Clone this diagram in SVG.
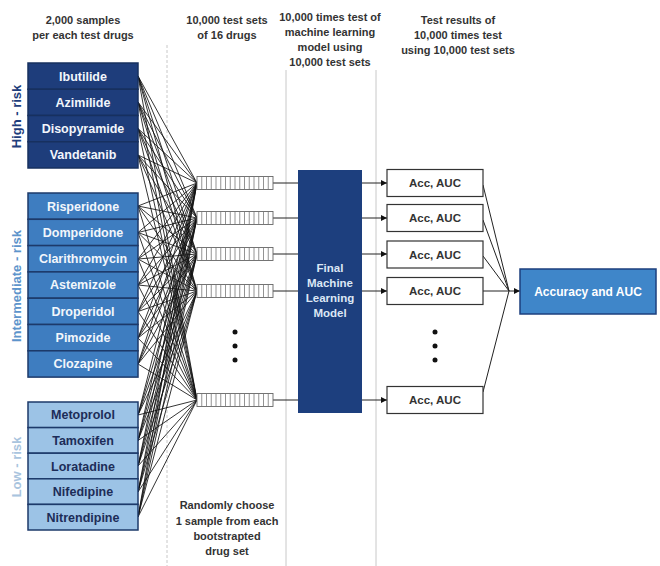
<svg xmlns="http://www.w3.org/2000/svg" xmlns:xlink="http://www.w3.org/1999/xlink" width="660" height="566" viewBox="0 0 660 566">
  <style>
    text { font-family: "Liberation Sans", Arial, sans-serif; font-weight: bold; }
    .hdr { font-size: 11px; fill: #333; text-anchor: middle; }
    .drug { font-size: 12.5px; text-anchor: middle; }
    .high rect { fill: #1e3d7b; stroke: #17305f; stroke-width: 1.5; }
    .mid rect { fill: #3e7dc0; stroke: #1d3a6a; stroke-width: 1.5; }
    .low rect { fill: #9cc3e6; stroke: #1d3a6a; stroke-width: 1.5; }
    .high text, .mid text { fill: #f2f6fb; }
    .low text { fill: #1d2d58; }
    .grp { font-size: 13px; text-anchor: middle; }
    .acc rect { fill: #fff; stroke: #333; stroke-width: 1.2; }
    .acc text { font-size: 11.5px; fill: #333; text-anchor: middle; }
    .sep { stroke: #c8c8c8; stroke-width: 1; fill: none; }
    .fan { stroke: #111; stroke-width: 0.85; fill: none; }
    .link { stroke: #222; stroke-width: 1; fill: none; }
    .dot { fill: #111; }
  </style>
  <defs>
    <marker id="arr" viewBox="0 0 10 10" refX="10" refY="5" markerWidth="6" markerHeight="6" orient="auto">
      <path d="M0 0L10 5L0 10z" fill="#111"/>
    </marker>
    <!-- one test set: a strip of 16 cells -->
    <symbol id="bar" overflow="visible">
      <rect x="0" y="0" width="76" height="13" fill="#fff" stroke="#666" stroke-width="0.9"/>
      <path d="M4.75 0v13M9.5 0v13M14.25 0v13M19 0v13M23.75 0v13M28.5 0v13M33.25 0v13M38 0v13M42.75 0v13M47.5 0v13M52.25 0v13M57 0v13M61.75 0v13M66.5 0v13M71.25 0v13" stroke="#777" stroke-width="0.8"/>
    </symbol>
  </defs>

  <rect width="660" height="566" fill="#fff"/>

  <!-- column separators -->
  <g id="separators">
    <line class="sep" x1="167" y1="45" x2="167" y2="566" stroke-dasharray="3 2"/>
    <line class="sep" x1="286" y1="70" x2="286" y2="566"/>
    <line class="sep" x1="376" y1="70" x2="376" y2="566"/>
  </g>

  <!-- column headers -->
  <g id="headers">
    <text class="hdr" x="83" y="24">2,000 samples</text>
    <text class="hdr" x="83" y="39">per each test drugs</text>
    <text class="hdr" x="227" y="24">10,000 test sets</text>
    <text class="hdr" x="227" y="39">of 16 drugs</text>
    <text class="hdr" x="330" y="21">10,000 times test of</text>
    <text class="hdr" x="330" y="36">machine learning</text>
    <text class="hdr" x="330" y="51">model using</text>
    <text class="hdr" x="330" y="66">10,000 test sets</text>
    <text class="hdr" x="458" y="24">Test results of</text>
    <text class="hdr" x="458" y="39">10,000 times test</text>
    <text class="hdr" x="458" y="54">using 10,000 test sets</text>
  </g>

  <!-- risk group labels -->
  <text class="grp" transform="translate(21,116.5) rotate(-90)" fill="#1e3d7b">High - risk</text>
  <text class="grp" transform="translate(21,286) rotate(-90)" fill="#5d94cb">Intermediate - risk</text>
  <text class="grp" transform="translate(21,467) rotate(-90)" fill="#a9c4de">Low - risk</text>

  <!-- connectors -->
  <g id="connectors">
    <path class="fan" d="M138 76L197 183M138 76L197 218M138 76L197 254M138 76L197 291M138 76L197 400
      M138 102L197 183M138 102L197 218M138 102L197 254M138 102L197 291M138 102L197 400
      M138 128.5L197 183M138 128.5L197 218M138 128.5L197 254M138 128.5L197 291M138 128.5L197 400
      M138 155L197 183M138 155L197 218M138 155L197 254M138 155L197 291M138 155L197 400
      M138 206L197 183M138 206L197 218M138 206L197 254M138 206L197 291M138 206L197 400
      M138 232.5L197 183M138 232.5L197 218M138 232.5L197 254M138 232.5L197 291M138 232.5L197 400
      M138 259L197 183M138 259L197 218M138 259L197 254M138 259L197 291M138 259L197 400
      M138 285L197 183M138 285L197 218M138 285L197 254M138 285L197 291M138 285L197 400
      M138 311.5L197 183M138 311.5L197 218M138 311.5L197 254M138 311.5L197 291M138 311.5L197 400
      M138 338L197 183M138 338L197 218M138 338L197 254M138 338L197 291M138 338L197 400
      M138 364L197 183M138 364L197 218M138 364L197 254M138 364L197 291M138 364L197 400
      M138 415L197 183M138 415L197 218M138 415L197 254M138 415L197 291M138 415L197 400
      M138 440.5L197 183M138 440.5L197 218M138 440.5L197 254M138 440.5L197 291M138 440.5L197 400
      M138 466L197 183M138 466L197 218M138 466L197 254M138 466L197 291M138 466L197 400
      M138 492L197 183M138 492L197 218M138 492L197 254M138 492L197 291M138 492L197 400
      M138 517L197 183M138 517L197 218M138 517L197 254M138 517L197 291M138 517L197 400"/>
    <!-- test sets into the model -->
    <path class="link" d="M273 183H298M273 218H298M273 254H298M273 291H298M273 400H298"/>
    <!-- model to per-set results -->
    <path class="link" d="M362 183H387" marker-end="url(#arr)"/>
    <path class="link" d="M362 218H387" marker-end="url(#arr)"/>
    <path class="link" d="M362 254H387" marker-end="url(#arr)"/>
    <path class="link" d="M362 291H387" marker-end="url(#arr)"/>
    <path class="link" d="M362 400H387" marker-end="url(#arr)"/>
    <!-- results merged into the summary -->
    <path class="link" d="M483 185L509 291M483 220L509 291M483 256L509 291M483 291H509M483 392L509 291"/>
    <path class="link" d="M509 291H520" marker-end="url(#arr)"/>
  </g>

  <!-- high-risk drugs -->
  <g class="high">
    <g id="ibutilide"><rect x="28" y="63" width="110" height="26.25"/><text class="drug" x="83" y="80.5">Ibutilide</text></g>
    <g id="azimilide"><rect x="28" y="89.25" width="110" height="26.25"/><text class="drug" x="83" y="106.8">Azimilide</text></g>
    <g id="disopyramide"><rect x="28" y="115.5" width="110" height="26.25"/><text class="drug" x="83" y="133">Disopyramide</text></g>
    <g id="vandetanib"><rect x="28" y="141.75" width="110" height="26.25"/><text class="drug" x="83" y="159.3">Vandetanib</text></g>
  </g>

  <!-- intermediate-risk drugs -->
  <g class="mid">
    <g id="risperidone"><rect x="28" y="193" width="110" height="26.3"/><text class="drug" x="83" y="210.5">Risperidone</text></g>
    <g id="domperidone"><rect x="28" y="219.3" width="110" height="26.3"/><text class="drug" x="83" y="236.8">Domperidone</text></g>
    <g id="clarithromycin"><rect x="28" y="245.6" width="110" height="26.3"/><text class="drug" x="83" y="263.1">Clarithromycin</text></g>
    <g id="astemizole"><rect x="28" y="271.9" width="110" height="26.3"/><text class="drug" x="83" y="289.4">Astemizole</text></g>
    <g id="droperidol"><rect x="28" y="298.2" width="110" height="26.3"/><text class="drug" x="83" y="315.7">Droperidol</text></g>
    <g id="pimozide"><rect x="28" y="324.5" width="110" height="26.3"/><text class="drug" x="83" y="342">Pimozide</text></g>
    <g id="clozapine"><rect x="28" y="350.8" width="110" height="26.3"/><text class="drug" x="83" y="368.3">Clozapine</text></g>
  </g>

  <!-- low-risk drugs -->
  <g class="low">
    <g id="metoprolol"><rect x="28" y="402" width="110" height="25.6"/><text class="drug" x="83" y="419.3">Metoprolol</text></g>
    <g id="tamoxifen"><rect x="28" y="427.6" width="110" height="25.6"/><text class="drug" x="83" y="444.9">Tamoxifen</text></g>
    <g id="loratadine"><rect x="28" y="453.2" width="110" height="25.6"/><text class="drug" x="83" y="470.5">Loratadine</text></g>
    <g id="nifedipine"><rect x="28" y="478.8" width="110" height="25.6"/><text class="drug" x="83" y="496.1">Nifedipine</text></g>
    <g id="nitrendipine"><rect x="28" y="504.4" width="110" height="25.6"/><text class="drug" x="83" y="521.7">Nitrendipine</text></g>
  </g>

  <!-- bootstrapped test sets -->
  <g id="test-sets">
    <use href="#bar" x="197" y="176.5"/>
    <use href="#bar" x="197" y="211.5"/>
    <use href="#bar" x="197" y="247.5"/>
    <use href="#bar" x="197" y="284.5"/>
    <use href="#bar" x="197" y="393.5"/>
    <circle class="dot" cx="235" cy="332" r="2.5"/>
    <circle class="dot" cx="235" cy="346" r="2.5"/>
    <circle class="dot" cx="235" cy="360" r="2.5"/>
  </g>

  <g id="sampling-note">
    <text class="hdr" x="227" y="509" fill="#444">Randomly choose</text>
    <text class="hdr" x="227" y="525" fill="#444">1 sample from each</text>
    <text class="hdr" x="227" y="540" fill="#444">bootstrapted</text>
    <text class="hdr" x="227" y="555" fill="#444">drug set</text>
  </g>

  <!-- trained model -->
  <g id="final-model">
    <rect x="298" y="170" width="64" height="243" fill="#1d3f7e"/>
    <text x="330" y="272" font-size="11.5" fill="#dce7f5" text-anchor="middle">Final</text>
    <text x="330" y="287" font-size="11.5" fill="#dce7f5" text-anchor="middle">Machine</text>
    <text x="330" y="302" font-size="11.5" fill="#dce7f5" text-anchor="middle">Learning</text>
    <text x="330" y="317" font-size="11.5" fill="#dce7f5" text-anchor="middle">Model</text>
  </g>

  <!-- per-set results -->
  <g class="acc">
    <g id="result-1"><rect x="387" y="169.5" width="96" height="27"/><text x="435" y="187">Acc, AUC</text></g>
    <g id="result-2"><rect x="387" y="204.5" width="96" height="27"/><text x="435" y="222">Acc, AUC</text></g>
    <g id="result-3"><rect x="387" y="241" width="96" height="27"/><text x="435" y="258.5">Acc, AUC</text></g>
    <g id="result-4"><rect x="387" y="277.5" width="96" height="27"/><text x="435" y="295">Acc, AUC</text></g>
    <g id="result-n"><rect x="387" y="386.5" width="96" height="27"/><text x="435" y="404">Acc, AUC</text></g>
  </g>
  <g id="result-dots">
    <circle class="dot" cx="435" cy="332" r="2.5"/>
    <circle class="dot" cx="435" cy="346" r="2.5"/>
    <circle class="dot" cx="435" cy="360" r="2.5"/>
  </g>

  <!-- overall summary -->
  <g id="accuracy-auc">
    <rect x="520" y="269" width="136" height="45" fill="#3f86c9" stroke="#1d3f7e" stroke-width="1.5"/>
    <text x="588" y="295.5" font-size="12" fill="#fff" text-anchor="middle">Accuracy and AUC</text>
  </g>
</svg>
